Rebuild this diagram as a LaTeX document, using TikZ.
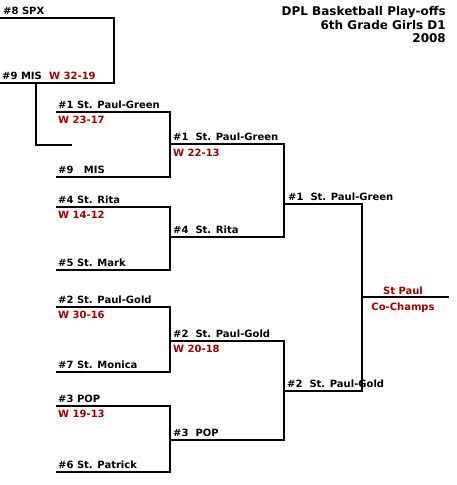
\documentclass[tikz,border=0pt]{standalone}
\usepackage{fontspec}
\setmainfont{DejaVu Sans}
\usepackage{tikz}

\definecolor{winred}{RGB}{153,0,0}

\tikzset{
    team/.style={anchor=base west, inner sep=0pt, font=\bfseries\fontsize{10}{12}\selectfont},
    score/.style={team, text=winred},
    title/.style={anchor=base east, inner sep=0pt, font=\bfseries\fontsize{12}{14}\selectfont},
    bracket/.style={line width=2pt, line cap=rect}
}

\begin{document}
\begin{tikzpicture}[x=1pt, y=-1pt]
    \useasboundingbox (0,0) rectangle (456,485);

    % play-in game
    \coordinate (SPX) at (0, 18);
    \coordinate (MIS) at (0, 83);
    \coordinate (PA) at (114, 18);
    \coordinate (PB) at (114, 83);
    \coordinate (PC) at (36, 83);
    \coordinate (PD) at (36, 145);
    \coordinate (PE) at (71, 145);
    \draw[bracket] (SPX) -- (PA) -- (PB) -- (MIS);
    \draw[bracket] (PC) -- (PD) -- (PE);

    % first round
    \foreach \name/\ya/\yb in {QA/112/177, QB/207/270, QC/307/372, QD/406/472}
        \draw[bracket] (57, \ya) coordinate (\name top) -- (170, \ya)
            -- (170, \yb) -- (57, \yb) coordinate (\name bot);

    % semi finals
    \foreach \name/\ya/\yb in {SA/144/237, SB/341/440}
        \draw[bracket] (170, \ya) coordinate (\name top) -- (284, \ya)
            -- (284, \yb) -- (170, \yb) coordinate (\name bot);

    % final
    \coordinate (FA) at (284, 204);
    \coordinate (FB) at (284, 391);
    \coordinate (FC) at (362, 204);
    \coordinate (FD) at (362, 391);
    \coordinate (FM) at (362, 297);
    \coordinate (CH) at (448, 297);
    \draw[bracket] (FA) -- (FC) -- (FD) -- (FB);
    \draw[bracket] (FM) -- (CH);

    % labels
    \node[team] (t8) at (3, 14) {\#8 SPX};
    \node[team] (t9) at (2, 79) {\#9 MIS};
    \node[score] (w1) at (49, 79) {W 32-19};

    \node[team] (r1a) at (58, 108) {\#1 St. Paul-Green};
    \node[score] (r1w) at (58, 123) {W 23-17};
    \node[team] (r1b) at (58, 173) {\#9\ \ \ MIS};
    \node[team] (r2a) at (58, 203) {\#4 St. Rita};
    \node[score] (r2w) at (58, 218) {W 14-12};
    \node[team] (r2b) at (58, 266) {\#5 St. Mark};
    \node[team] (r3a) at (58, 303) {\#2 St. Paul-Gold};
    \node[score] (r3w) at (58, 318) {W 30-16};
    \node[team] (r3b) at (58, 368) {\#7 St. Monica};
    \node[team] (r4a) at (58, 402) {\#3 POP};
    \node[score] (r4w) at (58, 417) {W 19-13};
    \node[team] (r4b) at (58, 468) {\#6 St. Patrick};

    \node[team] (s1a) at (173, 140) {\#1\ \ St. Paul-Green};
    \node[score] (s1w) at (173, 156) {W 22-13};
    \node[team] (s1b) at (173, 233) {\#4\ \ St. Rita};
    \node[team] (s2a) at (173, 337) {\#2\ \ St. Paul-Gold};
    \node[score] (s2w) at (173, 352) {W 20-18};
    \node[team] (s2b) at (173, 436) {\#3\ \ POP};

    \node[team] (f1) at (288, 200) {\#1\ \ St. Paul-Green};
    \node[team] (f2) at (287, 387) {\#2\ \ St. Paul-Gold};

    \node[score, anchor=base] (c1) at (403, 294) {St Paul};
    \node[score, anchor=base] (c2) at (403, 310) {Co-Champs};

    \node[title] (h1) at (446, 15) {DPL Basketball Play-offs};
    \node[title] (h2) at (446, 29) {6th Grade Girls D1};
    \node[title] (h3) at (446, 42) {2008};
\end{tikzpicture}
\end{document}
